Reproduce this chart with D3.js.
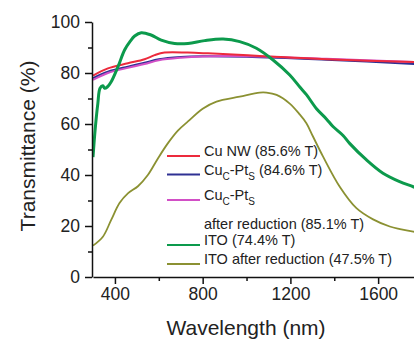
<!DOCTYPE html>
<html>
<head>
<meta charset="utf-8">
<script src="https://cdn.jsdelivr.net/npm/d3@7"></script>
<style>
  body { margin: 0; background: #fff; }
  svg { display: block; font-family: "Liberation Sans", Arial, sans-serif; }
</style>
</head>
<body>
<svg id="chart" width="414" height="340"></svg>
<script>
// wavelength (nm) / transmittance (%)
const cuNwWl = [300, 368, 459, 535, 581, 626, 732, 824, 1060, 1364, 1800];
const cuNwT = [79, 81.8, 83.8, 85.4, 87, 88, 88, 87.7, 86.7, 85.4, 84.2];

const cuPtWl = [300, 368, 459, 535, 600, 700, 800, 1000, 1364, 1800];
const cuPtT = [78, 80.5, 82.5, 84, 85.4, 86.3, 86.6, 86.4, 85.2, 83.4];

const cuPtRedWl = [300, 368, 459, 535, 600, 700, 800, 1000, 1364, 1800];
const cuPtRedT = [77.3, 80, 82, 83.5, 85, 86, 86.5, 86.6, 85.6, 84.2];

const itoWl = [300, 310, 322, 332, 345, 353, 365, 383, 414, 444, 470, 490, 520, 565, 611, 672, 733, 809, 893, 969, 1045, 1121, 1197, 1243, 1273, 1319, 1364, 1394, 1440, 1470, 1547, 1622, 1698, 1760, 1800];
const itoT = [47, 58, 68, 74, 75, 74, 74.5, 76.6, 82.5, 89, 92.5, 94.5, 95.8, 94.9, 92.9, 91.6, 91.6, 92.7, 93.3, 92.3, 89.7, 85.1, 79.2, 74.5, 71.5, 66, 62, 59, 55.5, 52.4, 45.9, 40.7, 37.4, 35.4, 34];

const itoRedWl = [300, 345, 383, 421, 459, 505, 550, 596, 641, 687, 733, 800, 863, 969, 1060, 1091, 1137, 1197, 1240, 1273, 1303, 1349, 1425, 1501, 1577, 1653, 1700, 1760, 1800];
const itoRedT = [12.3, 15.8, 22.4, 29, 32.8, 35.6, 40, 46.5, 52.4, 57.4, 61, 66, 68.8, 70.7, 72.3, 72.3, 71.4, 68, 64, 60.3, 55.1, 47.2, 35.4, 27, 22.6, 19.8, 18.8, 17.8, 17.3];

const xTicks = [400, 800, 1200, 1600];
const xMinor = [600, 1000, 1400];
const yTicks = [0, 20, 40, 60, 80, 100];
const yMinor = [10, 30, 50, 70, 90];

const series = [
  { wl: cuNwWl, t: cuNwT, color: "#ec2a3c", width: 2, label: ["Cu NW (85.6% T)"] },
  { wl: cuPtWl, t: cuPtT, color: "#2f3193", width: 2, label: ["Cu", "C", "-Pt", "S", " (84.6% T)"] },
  { wl: cuPtRedWl, t: cuPtRedT, color: "#d24fc6", width: 2, label: ["Cu", "C", "-Pt", "S"] },
  { wl: itoWl, t: itoT, color: "#0c9a4c", width: 3, label: ["ITO (74.4% T)"] },
  { wl: itoRedWl, t: itoRedT, color: "#8b9132", width: 1.8, label: ["ITO after reduction (47.5% T)"] },
];

const svg = d3.select("#chart");
const x = d3.scaleLinear().domain([300, 1800]).range([93, 422]);
const y = d3.scaleLinear().domain([0, 100]).range([277, 22]);

svg.append("defs").append("clipPath").attr("id", "plot")
  .append("rect").attr("x", 92).attr("y", 0).attr("width", 330).attr("height", 277);

// curves: draw the Cu ones first, then ITO on top
const line = d3.line().curve(d3.curveCatmullRom.alpha(0.5));
const drawOrder = [1, 2, 0, 3, 4];
svg.append("g").attr("clip-path", "url(#plot)")
  .selectAll("path")
  .data(drawOrder.map((i) => series[i]))
  .join("path")
  .attr("fill", "none")
  .attr("stroke", (d) => d.color)
  .attr("stroke-width", (d) => d.width)
  .attr("stroke-linejoin", "round")
  .attr("d", (d) => line(d.wl.map((w, i) => [x(w), y(d.t[i])])));

// axes
const xAxis = svg.append("g")
  .attr("transform", "translate(0,277)")
  .call(d3.axisBottom(x).tickValues(xTicks).tickFormat(d3.format("d")).tickSize(7).tickSizeOuter(0).tickPadding(4));
svg.append("g")
  .attr("transform", "translate(0,277)")
  .call(d3.axisBottom(x).tickValues(xMinor).tickSize(4).tickFormat("").tickSizeOuter(0))
  .select(".domain").remove();
const yAxis = svg.append("g")
  .attr("transform", "translate(92,0)")
  .call(d3.axisLeft(y).tickValues(yTicks).tickSize(7).tickSizeOuter(0).tickPadding(5));
svg.append("g")
  .attr("transform", "translate(92,0)")
  .call(d3.axisLeft(y).tickValues(yMinor).tickSize(4).tickFormat("").tickSizeOuter(0))
  .select(".domain").remove();

svg.selectAll(".domain, .tick line").attr("stroke", "#111").attr("stroke-width", 1.5);
[xAxis, yAxis].forEach((ax) => {
  ax.attr("font-family", null);
  ax.selectAll("text").attr("font-size", 17.5).attr("fill", "#222");
});

// axis titles
svg.append("text")
  .attr("x", 246).attr("y", 335)
  .attr("text-anchor", "middle")
  .attr("font-size", 21).attr("fill", "#222")
  .text("Wavelength (nm)");
svg.append("text")
  .attr("transform", "translate(35,146) rotate(-90)")
  .attr("text-anchor", "middle")
  .attr("font-size", 21).attr("fill", "#222")
  .text("Transmittance (%)");

// legend
const legendY = [156, 174.5, 200, 245, 264];
const legend = svg.append("g");
series.forEach((s, i) => {
  const row = legend.append("g").attr("transform", "translate(0," + legendY[i] + ")");
  row.append("line")
    .attr("x1", 167).attr("x2", 200)
    .attr("stroke", s.color).attr("stroke-width", 2);
  const txt = row.append("text")
    .attr("x", 204).attr("dy", "0.35em")
    .attr("font-size", 14.5).attr("fill", "#222");
  s.label.forEach((part, j) => {
    const sub = s.label.length > 1 && j % 2 === 1;
    txt.append("tspan")
      .attr("font-size", sub ? 10 : 14.5)
      .attr("dy", sub ? 5 : (j > 0 ? -5 : 0))
      .text(part);
  });
});
legend.append("text")
  .attr("x", 204).attr("y", 224).attr("dy", "0.35em")
  .attr("font-size", 14.5).attr("fill", "#222")
  .text("after reduction (85.1% T)");
</script>
</body>
</html>
